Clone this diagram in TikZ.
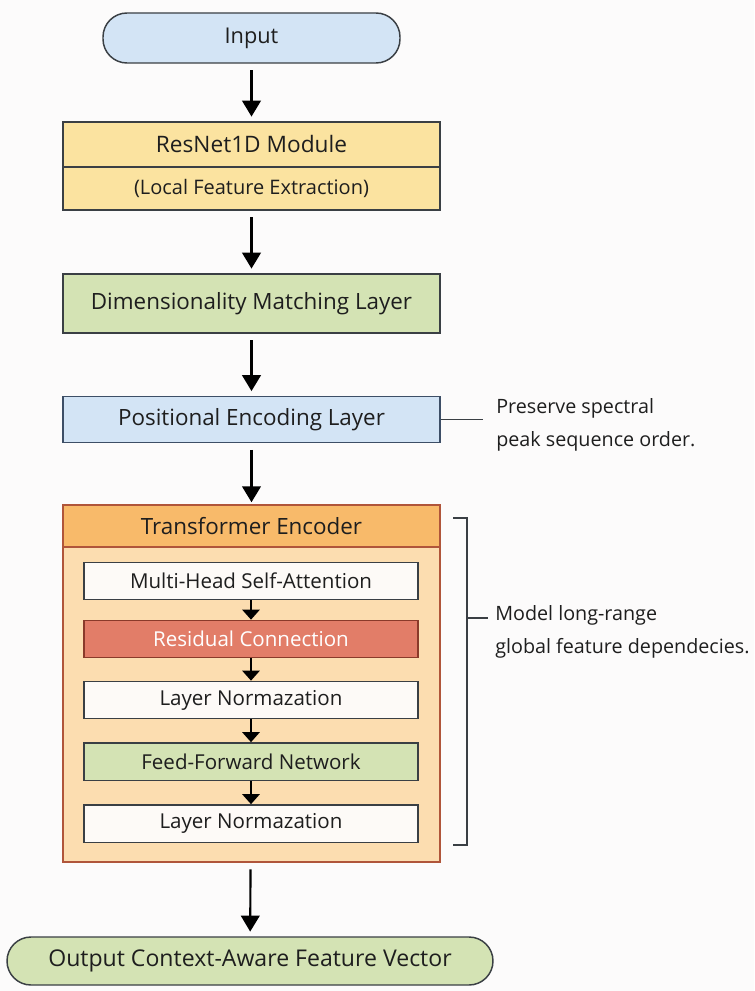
\documentclass[tikz,border=0pt]{standalone}
\usepackage{fontspec}
\setmainfont{Open Sans}
\usetikzlibrary{arrows.meta}
\definecolor{bgcol}{HTML}{FCFBFB}
\definecolor{inkcol}{HTML}{1E1E1E}
\definecolor{linecol}{HTML}{3A3F44}
\definecolor{bluefill}{HTML}{D3E4F5}
\definecolor{blueline}{HTML}{3D4E66}
\definecolor{yellowfill}{HTML}{FBE3A0}
\definecolor{greenfill}{HTML}{D4E3B4}
\definecolor{orangehead}{HTML}{F8BA6A}
\definecolor{orangebody}{HTML}{FCDDB0}
\definecolor{orangeline}{HTML}{B0553A}
\definecolor{redfill}{HTML}{E27D68}
\definecolor{redline}{HTML}{8A3A2A}
\definecolor{whitefill}{HTML}{FDFAF7}

\begin{document}
\begin{tikzpicture}[x=0.75pt,y=-0.75pt,text=inkcol,block/.style={draw=linecol,line width=1.1pt,minimum width=282.75pt,inner sep=0pt,font=\fontsize{16.8}{19}\selectfont},pill/.style={block,rounded corners=18pt},inner/.style={draw=linecol,line width=1pt,fill=whitefill,minimum width=250.5pt,minimum height=28pt,inner sep=0pt,font=\fontsize{15.4}{17}\selectfont},note/.style={align=left,anchor=west,inner sep=0pt,font=\fontsize{14.8}{25}\selectfont},arrow/.style={-{Triangle[length=12pt,width=14pt]},line width=1.6pt,draw=black,shorten <=5pt,shorten >=3.5pt},small arrow/.style={-{Triangle[length=7.5pt,width=13pt]},line width=1.4pt,draw=black}]
\fill[bgcol] (0,0) rectangle (754,991);
\node[pill,fill=bluefill,minimum width=222.75pt,minimum height=37.5pt,font=\fontsize{16.3}{19}\selectfont] (inp) at (251.5,38) {Input};
\node[block,fill=yellowfill,minimum height=33.75pt,font=\fontsize{17}{19}\selectfont] (res) at (251.5,144.5) {ResNet1D Module};
\node[block,fill=yellowfill,minimum height=32.25pt,font=\fontsize{15}{17}\selectfont] (resx) at (251.5,188.5) {(Local Feature Extraction)};
\node[block,fill=greenfill,minimum height=44.25pt] (dim) at (251.5,303.5) {Dimensionality Matching Layer};
\node[block,fill=bluefill,draw=blueline,minimum height=34.5pt] (pos) at (251.5,419.5) {Positional Encoding Layer};
\node[block,fill=orangebody,draw=orangeline,minimum height=236.25pt] (tbody) at (251.5,704.5) {};
\node[block,fill=orangehead,draw=orangeline,minimum height=31.5pt] (thead) at (251.5,526) {Transformer Encoder};
\node[inner] (mhsa) at (251,581) {Multi-Head Self-Attention};
\node[inner,fill=redfill,draw=redline,text=white] (resid) at (251,639) {Residual Connection};
\node[inner] (norm1) at (251,700) {Layer Normazation};
\node[inner,fill=greenfill] (ffn) at (251,761.5) {Feed-Forward Network};
\node[inner] (norm2) at (251,823.5) {Layer Normazation};
\node[pill,fill=greenfill,minimum width=364.5pt,minimum height=36pt,font=\fontsize{17.3}{19}\selectfont] (out) at (250,961) {Output Context-Aware Feature Vector};
% side notes
\node[note] (peak) at (496,425) {Preserve spectral\\peak sequence order.};
\node[note] (glob) at (495,632) {Model long-range\\global feature dependecies.};
\coordinate (brtop) at (467,518);
\coordinate (brbot) at (467,845);
\coordinate (brmid) at (467,618);
\draw[line width=1pt,draw=linecol] ([xshift=-10.5pt]brtop) -- (brtop) -- (brbot) -- ([xshift=-10.5pt]brbot);
\draw[line width=1pt,draw=linecol] (brmid) -- ([xshift=-5pt]brmid -| glob.west);
\draw[line width=1pt,draw=linecol] (pos.east) -- ([xshift=-9.5pt]pos.east -| peak.west);
% main flow
\draw[arrow] (inp) -- (res);
\draw[arrow] (resx) -- (dim);
\draw[arrow] (dim) -- (pos);
\draw[arrow,shorten >=1.5pt] (pos) -- (thead);
\draw[arrow] (tbody) -- (out);
\draw[small arrow] (mhsa) -- (resid);
\draw[small arrow] (resid) -- (norm1);
\draw[small arrow] (norm1) -- (ffn);
\draw[small arrow] (ffn) -- (norm2);
\end{tikzpicture}
\end{document}
